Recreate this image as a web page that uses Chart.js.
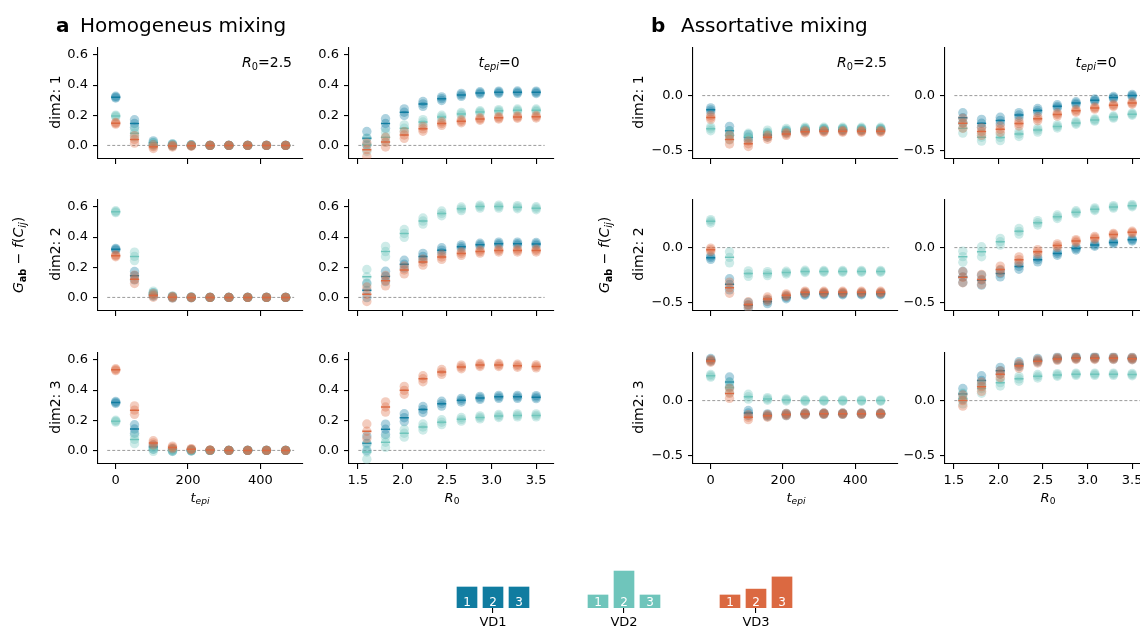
<!DOCTYPE html>
<html>
<head>
<meta charset="utf-8">
<script src="https://cdn.jsdelivr.net/npm/chart.js@4.4.0/dist/chart.umd.min.js"></script>
<style>
  body { margin: 0; width: 1140px; height: 629px; overflow: hidden; background: #fff; position: relative;
         font-family: 'DejaVu Sans', sans-serif; color: #000; }
  canvas { position: absolute; }
  .txt { position: absolute; white-space: nowrap; line-height: 1; }
  sub { font-size: 70%; line-height: 0; vertical-align: -0.3em; }
</style>
</head>
<body>
<script>
// x positions of the sweeps
const tEpi = [0, 52, 104, 157, 209, 261, 313, 365, 417, 470];
const r0 = [1.6, 1.81, 2.02, 2.23, 2.44, 2.66, 2.87, 3.08, 3.29, 3.5];

const tEpiTicks = [0, 200, 400];
const r0Ticks = [1.5, 2.0, 2.5, 3.0, 3.5];
const homYTicks = [0, 0.2, 0.4, 0.6];
const assYTicks = [-0.5, 0];

// homogeneous mixing: R0 = 2.5 against t_epi (homT*), t_epi = 0 against R0 (homR*)
// spread = half height of the replicate cloud at each x
const homT1 = {
  vd1: [0.32, 0.145, 0.018, 0.004, 0.001, 0, 0, 0, 0, 0],
  vd2: [0.195, 0.08, 0.01, 0.003, 0.001, 0, 0, 0, 0, 0],
  vd3: [0.147, 0.04, -0.008, -0.004, -0.002, 0, 0, 0, 0, 0],
  spread: [0.006, 0.025, 0.012, 0.006, 0.003, 0, 0, 0, 0, 0],
};
const homR1 = {
  vd1: [0.047, 0.145, 0.22, 0.275, 0.31, 0.335, 0.348, 0.352, 0.353, 0.352],
  vd2: [0.005, 0.054, 0.114, 0.155, 0.188, 0.209, 0.222, 0.229, 0.233, 0.233],
  vd3: [-0.028, 0.022, 0.069, 0.11, 0.145, 0.16, 0.175, 0.183, 0.188, 0.19],
  spread: [0.045, 0.032, 0.022, 0.016, 0.012, 0.01, 0.008, 0.008, 0.008, 0.008],
};
const homT2 = {
  vd1: [0.319, 0.144, 0.02, 0.002, 0, 0, 0, 0, 0, 0],
  vd2: [0.568, 0.272, 0.03, 0.005, 0.001, 0, 0, 0, 0, 0],
  vd3: [0.276, 0.12, 0.013, 0.001, 0, 0, 0, 0, 0, 0],
  spread: [0.006, 0.028, 0.012, 0.005, 0.002, 0, 0, 0, 0, 0],
};
const homR2 = {
  vd1: [0.047, 0.139, 0.22, 0.272, 0.313, 0.336, 0.349, 0.356, 0.356, 0.354],
  vd2: [0.137, 0.304, 0.424, 0.506, 0.557, 0.587, 0.602, 0.602, 0.598, 0.591],
  vd3: [0.021, 0.111, 0.182, 0.234, 0.268, 0.291, 0.304, 0.311, 0.311, 0.311],
  spread: [0.048, 0.034, 0.026, 0.02, 0.016, 0.012, 0.01, 0.01, 0.01, 0.01],
};
const homT3 = {
  vd1: [0.318, 0.142, 0.022, 0.003, 0, 0, 0, 0, 0, 0],
  vd2: [0.194, 0.073, 0.008, 0.001, 0, 0, 0, 0, 0, 0],
  vd3: [0.535, 0.267, 0.05, 0.02, 0.008, 0.002, 0, 0, 0, 0],
  spread: [0.006, 0.028, 0.014, 0.008, 0.004, 0, 0, 0, 0, 0],
};
const homR3 = {
  vd1: [0.047, 0.14, 0.217, 0.271, 0.31, 0.333, 0.348, 0.355, 0.355, 0.353],
  vd2: [-0.01, 0.054, 0.114, 0.155, 0.187, 0.206, 0.219, 0.228, 0.232, 0.232],
  vd3: [0.127, 0.288, 0.398, 0.475, 0.52, 0.553, 0.566, 0.566, 0.561, 0.557],
  spread: [0.048, 0.034, 0.026, 0.02, 0.016, 0.012, 0.01, 0.01, 0.01, 0.01],
};

// assortative mixing
const assT1 = {
  vd1: [-0.129, -0.318, -0.376, -0.356, -0.326, -0.31, -0.308, -0.308, -0.308, -0.308],
  vd2: [-0.3, -0.36, -0.365, -0.33, -0.31, -0.295, -0.294, -0.294, -0.294, -0.294],
  vd3: [-0.197, -0.397, -0.435, -0.376, -0.347, -0.326, -0.323, -0.323, -0.323, -0.323],
  spread: [0.018, 0.04, 0.025, 0.018, 0.012, 0.01, 0.008, 0.008, 0.008, 0.008],
};
const assR1 = {
  vd1: [-0.2, -0.25, -0.224, -0.176, -0.135, -0.097, -0.068, -0.041, -0.018, 0.0],
  vd2: [-0.294, -0.376, -0.379, -0.347, -0.312, -0.279, -0.247, -0.221, -0.194, -0.168],
  vd3: [-0.25, -0.324, -0.303, -0.253, -0.209, -0.171, -0.138, -0.112, -0.088, -0.068],
  spread: [0.045, 0.035, 0.028, 0.022, 0.018, 0.014, 0.012, 0.01, 0.01, 0.01],
};
const assT2 = {
  vd1: [-0.091, -0.332, -0.52, -0.488, -0.45, -0.42, -0.418, -0.418, -0.418, -0.418],
  vd2: [0.238, -0.088, -0.235, -0.235, -0.226, -0.215, -0.215, -0.215, -0.215, -0.215],
  vd3: [-0.02, -0.362, -0.515, -0.465, -0.43, -0.403, -0.403, -0.403, -0.403, -0.403],
  spread: [0.015, 0.05, 0.025, 0.018, 0.012, 0.01, 0.008, 0.008, 0.008, 0.008],
};
const assR2 = {
  vd1: [-0.265, -0.294, -0.235, -0.171, -0.109, -0.053, -0.009, 0.024, 0.047, 0.07],
  vd2: [-0.082, -0.038, 0.053, 0.147, 0.224, 0.279, 0.32, 0.347, 0.368, 0.379],
  vd3: [-0.268, -0.288, -0.197, -0.109, -0.038, 0.018, 0.059, 0.088, 0.118, 0.138],
  spread: [0.05, 0.045, 0.03, 0.025, 0.02, 0.016, 0.013, 0.012, 0.011, 0.01],
};
const assT3 = {
  vd1: [0.368, 0.168, -0.112, -0.132, -0.126, -0.12, -0.118, -0.118, -0.118, -0.118],
  vd2: [0.224, 0.118, 0.035, 0.015, 0.006, 0, 0, 0, 0, 0],
  vd3: [0.359, 0.065, -0.15, -0.138, -0.126, -0.12, -0.118, -0.118, -0.118, -0.118],
  spread: [0.012, 0.045, 0.022, 0.012, 0.01, 0.008, 0.006, 0.006, 0.006, 0.006],
};
const assR3 = {
  vd1: [0.059, 0.182, 0.27, 0.329, 0.365, 0.382, 0.388, 0.388, 0.385, 0.382],
  vd2: [0.02, 0.109, 0.162, 0.197, 0.22, 0.232, 0.238, 0.238, 0.238, 0.235],
  vd3: [0.0, 0.126, 0.238, 0.315, 0.356, 0.376, 0.382, 0.382, 0.382, 0.379],
  spread: [0.05, 0.042, 0.03, 0.022, 0.016, 0.012, 0.01, 0.01, 0.01, 0.01],
};

// variance distributions shown in the key
const vdNames = ['VD1', 'VD2', 'VD3'];
const vdBins = ['1', '2', '3'];
const vd1Weights = [1, 1, 1];
const vd2Weights = [0.62, 1.76, 0.62];
const vd3Weights = [0.62, 0.9, 1.48];

const vdColors = ['#107ca0', '#6fc5bb', '#db6941'];

Chart.defaults.font.family = "'DejaVu Sans', sans-serif";
Chart.defaults.font.size = 13;
Chart.defaults.color = '#000';
Chart.defaults.animation = false;
Chart.defaults.events = [];
Chart.defaults.plugins.legend.display = false;
Chart.defaults.plugins.tooltip.enabled = false;

const fade = (hex, a) => {
  const n = parseInt(hex.slice(1), 16);
  return `rgba(${n >> 16}, ${(n >> 8) & 255}, ${n & 255}, ${a})`;
};

const colX = [98, 349, 693, 945];
const rowY = [45, 197, 350];
const PW = 205, PH = 114, PADL = 50, PADT = 10, PADR = 12, PADB = 32;

const xAxes = {
  tepi: { xs: tEpi, ticks: tEpiTicks, min: -49, max: 518, fmt: (v) => String(v) },
  r0: { xs: r0, ticks: r0Ticks, min: 1.4, max: 3.7, fmt: (v) => v.toFixed(1) },
};
const yAxes = {
  hom: { ticks: homYTicks, min: -0.09, max: 0.647 },
  ass: { ticks: assYTicks, min: -0.573, max: 0.432 },
};

const panels = [
  [homT1, 0, 0, 'tepi', 'hom'], [homR1, 1, 0, 'r0', 'hom'],
  [homT2, 0, 1, 'tepi', 'hom'], [homR2, 1, 1, 'r0', 'hom'],
  [homT3, 0, 2, 'tepi', 'hom'], [homR3, 1, 2, 'r0', 'hom'],
  [assT1, 2, 0, 'tepi', 'ass'], [assR1, 3, 0, 'r0', 'ass'],
  [assT2, 2, 1, 'tepi', 'ass'], [assR2, 3, 1, 'r0', 'ass'],
  [assT3, 2, 2, 'tepi', 'ass'], [assR3, 3, 2, 'r0', 'ass'],
];

function makeCanvas(left, top, w, h) {
  const c = document.createElement('canvas');
  c.width = w;
  c.height = h;
  c.style.left = left + 'px';
  c.style.top = top + 'px';
  c.style.width = w + 'px';
  c.style.height = h + 'px';
  document.body.appendChild(c);
  return c;
}

function panelDatasets(d, xs) {
  const span = xs[xs.length - 1] - xs[0];
  const sets = [{
    type: 'line',
    data: [{ x: xs[0] - 0.05 * span, y: 0 }, { x: xs[xs.length - 1] + 0.05 * span, y: 0 }],
    borderColor: '#8f8f8f',
    borderWidth: 0.9,
    borderDash: [3, 2],
    pointRadius: 0,
    order: 20,
  }];
  [d.vd1, d.vd2, d.vd3].forEach((vals, k) => {
    const cloud = [];
    vals.forEach((v, i) => {
      const s = d.spread[i];
      cloud.push({ x: xs[i], y: v - s }, { x: xs[i], y: v }, { x: xs[i], y: v + s });
    });
    sets.push({
      type: 'scatter',
      data: cloud,
      pointRadius: 4.7,
      pointBorderWidth: 0,
      pointBackgroundColor: fade(vdColors[k], 0.34),
      order: 10 - 2 * k,
    });
    sets.push({
      type: 'scatter',
      data: vals.map((v, i) => ({ x: xs[i], y: v })),
      pointStyle: 'line',
      pointRadius: 4.5,
      pointBorderWidth: 1.5,
      pointBorderColor: vdColors[k],
      borderColor: vdColors[k],
      order: 9 - 2 * k,
    });
  });
  return sets;
}

const axisLine = { color: '#000', width: 1.1 };
const tickMarks = { drawOnChartArea: false, tickLength: 5, color: '#000', lineWidth: 1.1 };

panels.forEach(([d, col, row, xk, yk]) => {
  const xa = xAxes[xk];
  const ya = yAxes[yk];
  const canvas = makeCanvas(colX[col] - PADL, rowY[row] - PADT, PADL + PW + PADR, PADT + PH + PADB);
  new Chart(canvas, {
    type: 'scatter',
    data: { datasets: panelDatasets(d, xa.xs) },
    options: {
      responsive: false,
      devicePixelRatio: 1,
      layout: { padding: { top: PADT, right: PADR, left: 0, bottom: 0 }, autoPadding: false },
      scales: {
        x: {
          type: 'linear',
          min: xa.min,
          max: xa.max,
          afterBuildTicks: (s) => { s.ticks = xa.ticks.map((v) => ({ value: v })); },
          afterFit: (s) => { s.height = PADB; },
          border: axisLine,
          grid: tickMarks,
          ticks: { display: row === 2, autoSkip: false, maxRotation: 0, padding: 4, callback: xa.fmt },
        },
        y: {
          type: 'linear',
          min: ya.min,
          max: ya.max,
          afterBuildTicks: (s) => { s.ticks = ya.ticks.map((v) => ({ value: v })); },
          afterFit: (s) => { s.width = PADL; },
          border: axisLine,
          grid: tickMarks,
          ticks: { autoSkip: false, padding: 5, callback: (v) => (v < 0 ? '\u2212' : '') + Math.abs(v).toFixed(1) },
        },
      },
    },
  });
});

// key: one small bar chart per variance distribution
const barDigits = {
  id: 'barDigits',
  afterDatasetsDraw(chart) {
    const { ctx } = chart;
    ctx.save();
    ctx.fillStyle = '#fff';
    ctx.font = "12px 'DejaVu Sans'";
    ctx.textAlign = 'center';
    ctx.textBaseline = 'alphabetic';
    chart.getDatasetMeta(0).data.forEach((bar, i) => {
      ctx.fillText(chart.data.labels[i], bar.x, bar.base - 2);
    });
    ctx.restore();
  },
};

[[vd1Weights, 454], [vd2Weights, 585], [vd3Weights, 717]].forEach(([w, left], k) => {
  const canvas = makeCanvas(left, 568, 78, 65);
  new Chart(canvas, {
    type: 'bar',
    data: { labels: vdBins, datasets: [{ data: w, backgroundColor: vdColors[k], barThickness: 20 }] },
    options: {
      responsive: false,
      devicePixelRatio: 1,
      layout: { padding: 0, autoPadding: false },
      scales: {
        x: {
          type: 'category',
          afterFit: (s) => { s.height = 25; },
          border: { display: false },
          grid: {
            offset: false,
            drawOnChartArea: false,
            tickLength: 5,
            lineWidth: 1.1,
            color: (c) => (c.index === 1 ? '#000' : 'rgba(0,0,0,0)'),
          },
          ticks: { padding: 2, autoSkip: false, maxRotation: 0, callback: (v, i) => (i === 1 ? vdNames[k] : '') },
        },
        y: { display: false, min: 0, max: 40 / 21 },
      },
    },
    plugins: [barDigits],
  });
});

// text: panel titles, axis labels, annotations
function label(html, x, y, opt = {}) {
  const el = document.createElement('div');
  el.className = 'txt';
  el.innerHTML = html;
  el.style.left = x + 'px';
  el.style.top = y + 'px';
  el.style.fontSize = (opt.size || 14) + 'px';
  if (opt.bold) el.style.fontWeight = 'bold';
  const ax = opt.align === 'left' ? '0' : opt.align === 'right' ? '-100%' : '-50%';
  el.style.transform = `translate(${ax}, -50%)` + (opt.rot ? ' rotate(-90deg)' : '');
  document.body.appendChild(el);
}

const tLabel = '<i>t</i><sub><i>epi</i></sub>';
const rLabel = '<i>R</i><sub>0</sub>';

label('a', 56, 25, { size: 20, bold: true, align: 'left' });
label('Homogeneus mixing', 80, 25, { size: 20, align: 'left' });
label('b', 651, 25, { size: 20, bold: true, align: 'left' });
label('Assortative mixing', 681, 25, { size: 20, align: 'left' });

const gLabel = '<i>G</i><sub><b>ab</b></sub> \u2212 <i>f</i>(<i>C</i><sub><i>ij</i></sub>)';
label(gLabel, 18, 255, { rot: true });
label(gLabel, 604, 255, { rot: true });

rowY.forEach((top, r) => {
  const cy = top + PH / 2;
  label('dim2: ' + (r + 1), 55, cy, { rot: true });
  label('dim2: ' + (r + 1), 638, cy, { rot: true });
});

label(rLabel + '=2.5', 292, 62, { align: 'right' });
label(rLabel + '=2.5', 887, 62, { align: 'right' });
label(tLabel + '=0', 499, 62);
label(tLabel + '=0', 1096, 62);

label(tLabel, 200, 497, { size: 13 });
label(rLabel, 452, 497, { size: 13 });
label(tLabel, 796, 497, { size: 13 });
label(rLabel, 1048, 497, { size: 13 });
</script>
</body>
</html>
